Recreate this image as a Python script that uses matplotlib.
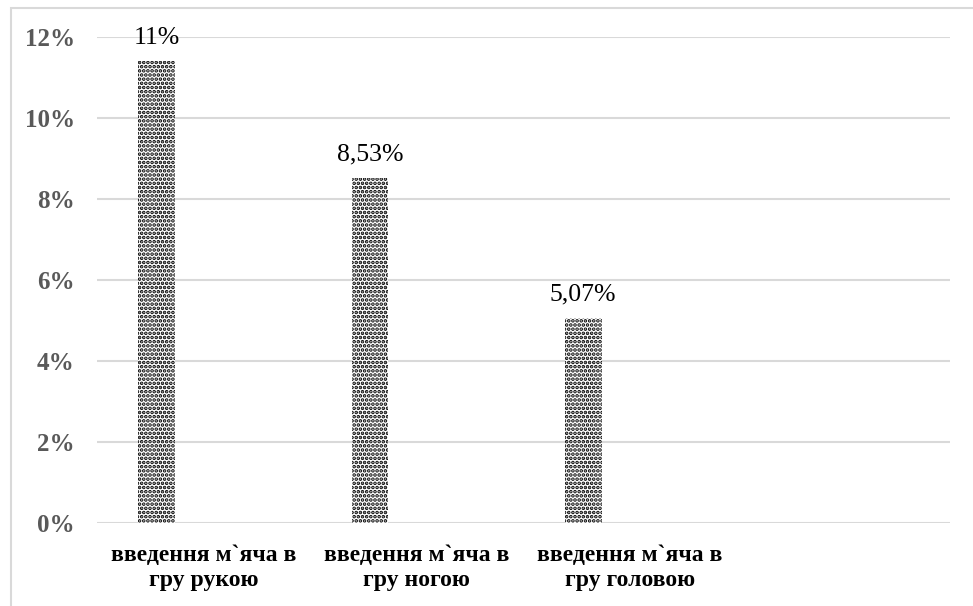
import matplotlib
matplotlib.use("Agg")
import matplotlib.pyplot as plt
from matplotlib.patches import Rectangle

# Data
categories = [
    "введення м`яча в\nгру рукою",
    "введення м`яча в\nгру ногою",
    "введення м`яча в\nгру головою",
    "",
]
values = [11.4, 8.53, 5.07]
label_decimals = [0, 2, 2]
y_ticks = [0, 2, 4, 6, 8, 10, 12]

plt.rcParams["hatch.linewidth"] = 1.8

W, H = 973, 606
fig = plt.figure(figsize=(W / 100, H / 100), dpi=100)
ax = fig.add_axes([97 / W, 1 - 523 / H, (950 - 97) / W, (523 - 37) / H])

# Chart frame (cropped at right and bottom)
fig.patches.append(Rectangle((11 / W, -0.1), 1.2, 1.1 - 8 / H,
                             transform=fig.transFigure, fill=False,
                             edgecolor="#d9d9d9", linewidth=1.5))

x = list(range(len(values)))
offset = -0.22
width = 0.173
xpos = [i + offset for i in x]
ax.bar(xpos, values, width=width, facecolor="white",
       edgecolor="black", hatch="....", linewidth=0, zorder=3)

for xp, v, d in zip(xpos, values, label_decimals):
    txt = f"{v:.{d}f}".replace(".", ",") + "%"
    ax.annotate(txt, (xp, v), xytext=(0, 9), textcoords="offset points",
                ha="center", va="bottom", family="Liberation Serif",
                fontsize=18.5, color="black")

ax.set_xlim(-0.5, len(categories) - 0.5)
ax.set_ylim(0, 12)
ax.set_yticks(y_ticks)
ax.set_yticklabels([f"{t}%" for t in y_ticks], family="Liberation Serif",
                   fontweight="bold", fontsize=18, color="#595959")
ax.set_xticks(range(len(categories)))
ax.set_xticklabels(categories, family="Liberation Serif", fontweight="bold",
                   fontsize=17, color="black", linespacing=1.25)
ax.tick_params(axis="y", length=0, pad=16)
ax.tick_params(axis="x", length=0, pad=16)

ax.grid(axis="y", color="#d9d9d9", linewidth=1.5, zorder=0)
for s in ax.spines.values():
    s.set_visible(False)
ax.set_facecolor("white")

fig.savefig("out.png", dpi=100, facecolor="white")
